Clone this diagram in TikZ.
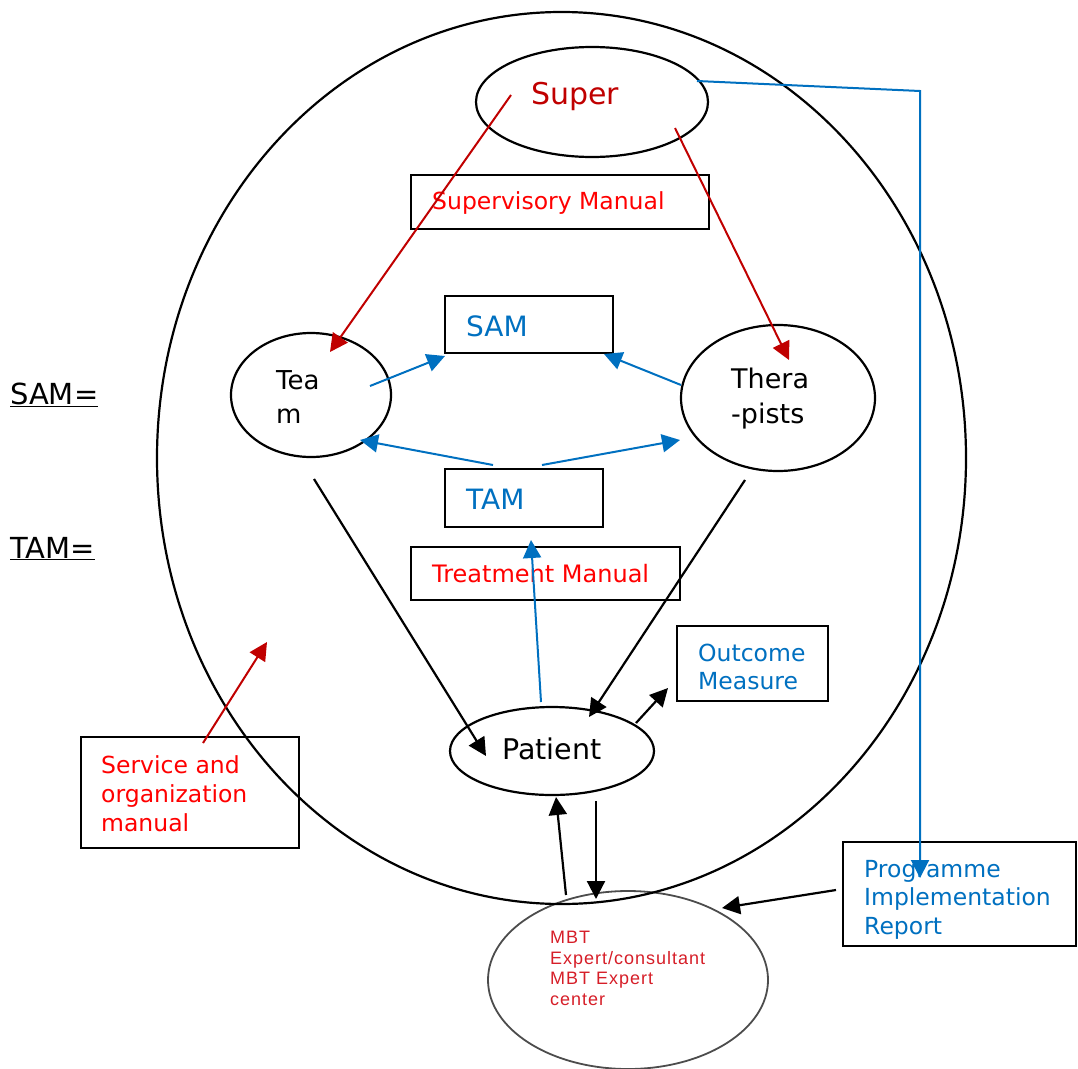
\documentclass[tikz,border=0pt]{standalone}
\usepackage{fontspec}
\setmainfont{DejaVu Sans}
\newfontfamily\arialf[LetterSpace=5.5]{Liberation Sans}
\usetikzlibrary{arrows.meta}
\definecolor{dred}{RGB}{192,0,0}
\definecolor{bred}{RGB}{255,0,0}
\definecolor{mblue}{RGB}{0,112,192}
\definecolor{mbtred}{RGB}{214,30,40}
\tikzset{
  x=1pt, y=-1pt,
  tip/.style={-{Triangle[length=18pt,width=18pt]}},
  blk/.style={tip, line width=2.2pt, black},
  redarr/.style={tip, line width=2pt, dred},
  bluearr/.style={tip, line width=2pt, mblue},
  ell/.style={draw, line width=2.2pt},
  box/.style={draw, line width=2.2pt},
  txt/.style={inner sep=0pt, anchor=base west, align=left},
}
\begin{document}
\begin{tikzpicture}
\useasboundingbox (0,0) rectangle (1078,1068);
% shapes
\draw[line width=1.8pt, black!70] (628,980) ellipse [x radius=140, y radius=89];
\draw[ell] (561.5,458) ellipse [x radius=404.5, y radius=446];
\draw[ell] (592,102) ellipse [x radius=116, y radius=55];
\draw[box] (411,175) rectangle (709,229);
\draw[box] (445,296) rectangle (613,353);
\draw[ell] (311,395) ellipse [x radius=80, y radius=62];
\draw[ell] (778,398) ellipse [x radius=97, y radius=73];
\draw[box] (445,469) rectangle (603,527);
\draw[box] (411,547) rectangle (680,600);
\draw[box] (677,626) rectangle (828,701);
\draw[ell] (552,751) ellipse [x radius=102, y radius=44];
\draw[box] (81,737) rectangle (299,848);
\draw[box] (843,842) rectangle (1076,946);

% texts
\node[txt, text=dred, font=\fontsize{30}{36}\selectfont] (super) at (531,104) {Super};
\node[txt, text=bred, font=\fontsize{23.5}{28}\selectfont] (supman) at (432,209) {Supervisory Manual};
\node[txt, text=mblue, font=\fontsize{28}{32}\selectfont] (sam) at (466,336) {SAM};
\node[txt, font=\fontsize{26}{34}\selectfont] (team) at (276,423) {Tea\\m};
\node[txt, font=\fontsize{27}{35}\selectfont] (ther) at (731,423) {Thera\\-pists};
\node[txt, text=mblue, font=\fontsize{28}{32}\selectfont] (tam) at (466,509) {TAM};
\node[txt, text=bred, font=\fontsize{24}{28}\selectfont] (treat) at (432,582) {Treatment Manual};
\node[txt, text=mblue, font=\fontsize{23.5}{28}\selectfont] (outc) at (698,689) {Outcome\\Measure};
\node[txt, font=\fontsize{28.5}{32}\selectfont] (pat) at (502,759) {Patient};
\node[txt, text=bred, font=\fontsize{23.5}{29}\selectfont] (serv) at (101,831) {Service and\\organization\\manual};
\node[txt, text=mblue, font=\fontsize{23.5}{28.5}\selectfont] (prog) at (864,934) {Programme\\Implementation\\Report};
\node[txt, text=mbtred, font=\arialf\fontsize{18}{20.5}\selectfont] (mbt) at (550,1005) {MBT\\Expert/consultant\\MBT Expert\\center};
\node[txt, font=\fontsize{29}{32}\selectfont] (samdef) at (10,404) {\underline{SAM=}};
\node[txt, font=\fontsize{29}{32}\selectfont] (tamdef) at (10,558) {\underline{TAM=}};

% arrows
\coordinate (r1a) at (511,95);  \coordinate (r1b) at (330,352);
\coordinate (r2a) at (675,128); \coordinate (r2b) at (789,360);
\coordinate (r3a) at (203,743); \coordinate (r3b) at (267,642);
\draw[redarr] (r1a) -- (r1b);
\draw[redarr] (r2a) -- (r2b);
\draw[redarr] (r3a) -- (r3b);

\coordinate (b1a) at (370,386); \coordinate (b1b) at (445,356);
\coordinate (b2a) at (681,385); \coordinate (b2b) at (604,354);
\coordinate (b3a) at (493,465); \coordinate (b3b) at (360,440);
\coordinate (b4a) at (542,465); \coordinate (b4b) at (680,440);
\coordinate (b5a) at (541,702); \coordinate (b5b) at (531,540);
\draw[bluearr] (b1a) -- (b1b);
\draw[bluearr] (b2a) -- (b2b);
\draw[bluearr] (b3a) -- (b3b);
\draw[bluearr] (b4a) -- (b4b);
\draw[bluearr] (b5a) -- (b5b);
\coordinate (c1) at (697,81); \coordinate (c2) at (920,91); \coordinate (c3) at (920,878);
\draw[bluearr] (c1) -- (c2) -- (c3);

\coordinate (k1a) at (314,479); \coordinate (k1b) at (486,756);
\coordinate (k2a) at (745,480); \coordinate (k2b) at (589,717);
\coordinate (k3a) at (636,723); \coordinate (k3b) at (668,688);
\coordinate (k4a) at (566,895); \coordinate (k4b) at (556,797);
\coordinate (k5a) at (596,801); \coordinate (k5b) at (596,899);
\coordinate (k6a) at (836,890); \coordinate (k6b) at (722,908);
\draw[blk] (k1a) -- (k1b);
\draw[blk] (k2a) -- (k2b);
\draw[blk] (k3a) -- (k3b);
\draw[blk] (k4a) -- (k4b);
\draw[blk] (k5a) -- (k5b);
\draw[blk] (k6a) -- (k6b);
\end{tikzpicture}
\end{document}
